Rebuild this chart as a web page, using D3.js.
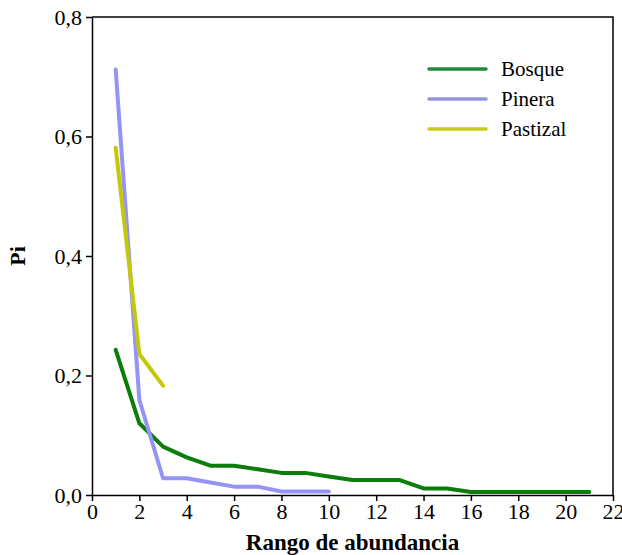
<!DOCTYPE html>
<html>
<head>
<meta charset="utf-8">
<script src="https://cdn.jsdelivr.net/npm/d3@7"></script>
<style>
  body { margin: 0; background: #fff; }
</style>
</head>
<body>
<svg id="chart" width="622" height="555"></svg>
<script>
var bosque = [0.243, 0.120, 0.081, 0.063, 0.049, 0.049, 0.043, 0.037, 0.037, 0.031,
              0.025, 0.025, 0.025, 0.011, 0.011, 0.005, 0.005, 0.005, 0.005, 0.005, 0.005];
var pinera = [0.712, 0.159, 0.028, 0.028, 0.021, 0.014, 0.014, 0.006, 0.006, 0.006];
var pastizal = [0.581, 0.236, 0.183];
var seriesNames = ["Bosque", "Pinera", "Pastizal"];
var seriesColors = ["#0b7d0b", "#9494f8", "#c4c80a"];
var legendColors = ["#238a3a", "#9494dc", "#c8cc1e"];
var xTicks = [0, 2, 4, 6, 8, 10, 12, 14, 16, 18, 20, 22];
var yTicks = [0, 0.2, 0.4, 0.6, 0.8];

var serif = "'Liberation Serif', 'Times New Roman', serif";

var margin = {top: 17, right: 9, bottom: 60, left: 92};
var width = 622 - margin.left - margin.right;
var height = 555 - margin.top - margin.bottom;

var svg = d3.select("#chart").attr("font-family", serif);
var chart = svg.append("g")
  .attr("transform", "translate(" + margin.left + "," + margin.top + ")");

var x = d3.scaleLinear().domain([0, 22]).range([0, width]);
var y = d3.scaleLinear().domain([0, 0.8]).range([height, 0]);

// frame top/right
chart.append("path")
  .attr("d", "M0,0H" + width + "V" + height)
  .attr("fill", "none")
  .attr("stroke", "#000")
  .attr("stroke-width", 1.5);

var fmt = function(d) { return d3.format(".1f")(d).replace(".", ","); };

var xAxis = chart.append("g")
  .attr("transform", "translate(0," + height + ")")
  .call(d3.axisBottom(x).tickValues(xTicks).tickSize(6).tickSizeOuter(0).tickPadding(2));
var yAxis = chart.append("g")
  .call(d3.axisLeft(y).tickValues(yTicks).tickFormat(fmt).tickSize(6).tickSizeOuter(0).tickPadding(4));

[xAxis, yAxis].forEach(function(a) {
  a.attr("font-family", serif);
  a.select(".domain").attr("stroke-width", 1.5);
  a.selectAll(".tick line").attr("stroke-width", 1.5);
  a.selectAll("text").attr("font-size", 22).attr("fill", "#000");
});

svg.append("text")
  .attr("x", margin.left + width / 2)
  .attr("y", 550)
  .attr("text-anchor", "middle")
  .attr("font-size", 23)
  .attr("font-weight", "bold")
  .text("Rango de abundancia");

svg.append("text")
  .attr("transform", "translate(25," + (margin.top + height / 2) + ") rotate(-90)")
  .attr("text-anchor", "middle")
  .attr("font-size", 22)
  .attr("font-weight", "bold")
  .text("Pi");

var line = d3.line()
  .x(function(d, i) { return x(i + 1); })
  .y(function(d) { return y(d); });

[bosque, pinera, pastizal].forEach(function(s, i) {
  chart.append("path")
    .datum(s)
    .attr("fill", "none")
    .attr("stroke", seriesColors[i])
    .attr("stroke-width", 4)
    .attr("stroke-linecap", "round")
    .attr("stroke-linejoin", "round")
    .attr("d", line);
});

var legend = svg.append("g").attr("transform", "translate(428,69)");
seriesNames.forEach(function(name, i) {
  var g = legend.append("g").attr("transform", "translate(0," + i * 30 + ")");
  g.append("line")
    .attr("x1", 1).attr("x2", 58)
    .attr("stroke", legendColors[i])
    .attr("stroke-width", 3.5)
    .attr("stroke-linecap", "round");
  g.append("text")
    .attr("x", 73).attr("y", 7)
    .attr("font-size", 21)
    .text(name);
});
</script>
</body>
</html>
